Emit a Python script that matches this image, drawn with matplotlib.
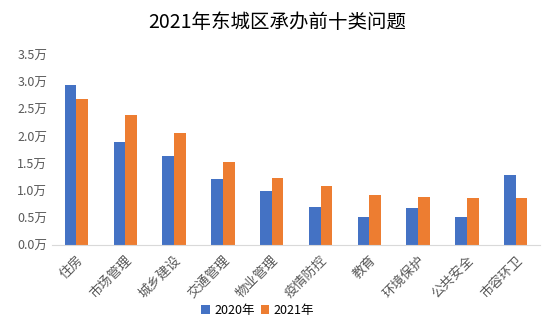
import matplotlib
matplotlib.use("Agg")
import matplotlib.pyplot as plt
import numpy as np
from matplotlib.ticker import FuncFormatter

plt.rcParams['font.family'] = ['Noto Sans CJK SC', 'DejaVu Sans']

categories = ['住房', '市场管理', '城乡建设', '交通管理', '物业管理',
              '疫情防控', '教育', '环境保护', '公共安全', '市容环卫']
v2020 = [2.95, 1.90, 1.64, 1.22, 0.99, 0.70, 0.52, 0.68, 0.52, 1.29]
v2021 = [2.69, 2.39, 2.06, 1.53, 1.23, 1.09, 0.92, 0.88, 0.87, 0.87]

fig = plt.figure(figsize=(5.54, 3.25), dpi=100)
ax = fig.add_axes([0.094, 0.246, 0.881, 0.585])

x = np.arange(len(categories))
w = 0.24
ax.bar(x - w / 2, v2020, w, color='#4472C4', label='2020年')
ax.bar(x + w / 2, v2021, w, color='#ED7D31', label='2021年')

ax.set_xlim(-0.5, len(categories) - 0.5)
ax.set_ylim(0, 3.5)
ax.set_yticks(np.arange(0, 3.51, 0.5))
ax.yaxis.set_major_formatter(FuncFormatter(lambda v, p: '%.1f万' % v))
ax.set_xticks(x)
ax.set_xticklabels(categories, rotation=45, ha='right', rotation_mode='anchor')

for s in ['top', 'right', 'left']:
    ax.spines[s].set_visible(False)
ax.spines['bottom'].set_color('#d9d9d9')
ax.tick_params(axis='both', length=0, colors='#595959', labelsize=9)
ax.tick_params(axis='x', pad=6, labelsize=9.5)

fig.text(0.5, 0.93, '2021年东城区承办前十类问题', ha='center', va='center',
         fontsize=14, color='#000000')

fig.legend(loc='center', bbox_to_anchor=(0.465, 0.045), ncol=2, frameon=False,
           fontsize=9, handlelength=0.7, handleheight=0.7, handletextpad=0.3,
           columnspacing=0.5)

fig.savefig('out.png', dpi=100)
